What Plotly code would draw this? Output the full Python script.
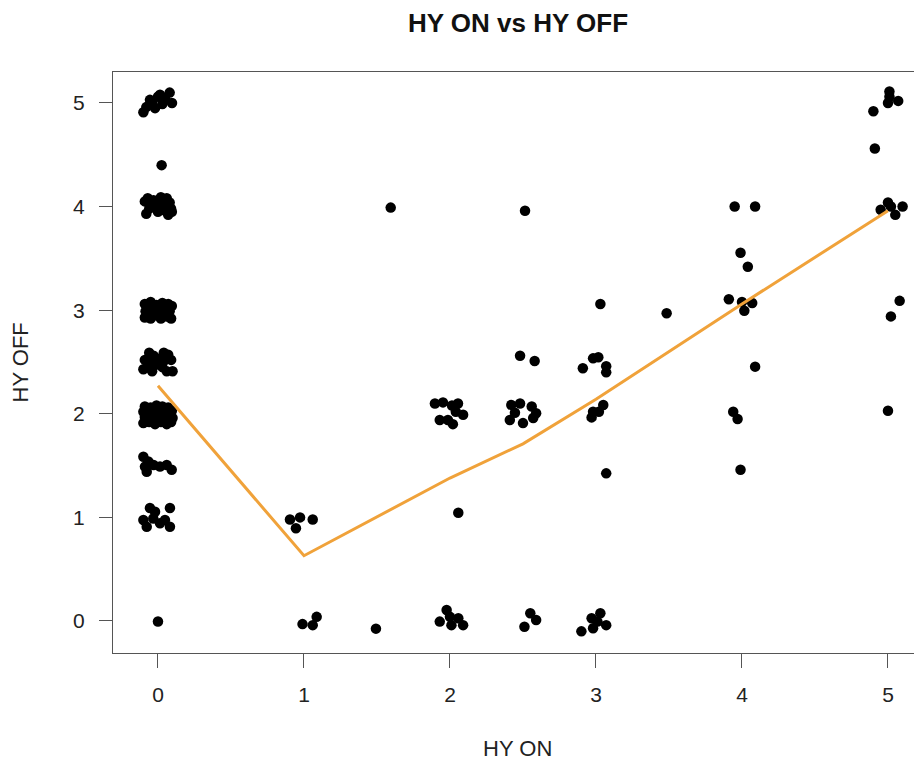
import plotly.graph_objects as go

# ---- data (jittered HY ON / HY OFF scores) ----
on_0 = [-0.10, -0.08, -0.055, -0.02, 0.0, 0.014, 0.05, 0.08, 0.096, -0.04, 0.03,
        0.025,
        -0.09, -0.06, -0.03, 0.0, 0.03, 0.06, 0.09, -0.08, -0.04, 0.02, 0.05, 0.08, -0.01, 0.07, -0.07, 0.04, 0.095,
        -0.09, -0.05, -0.01, 0.03, 0.07, 0.095, -0.085, -0.045, 0.0, 0.04, 0.08, -0.09, -0.05, -0.02, 0.02, 0.06, 0.09, -0.07, 0.05, -0.03, 0.065,
        -0.06, -0.03, 0.04, 0.07, -0.09, -0.05, 0.0, 0.04, 0.09, -0.10, -0.07, -0.02, 0.03, 0.06, 0.10, -0.04,
        -0.09, -0.05, -0.01, 0.03, 0.07, -0.10, -0.06, -0.02, 0.02, 0.06, 0.095, -0.09, -0.05, -0.01, 0.03, 0.07, 0.10,
        -0.10, -0.06, -0.02, 0.02, 0.06, 0.09, -0.08, 0.0, 0.05, -0.03, 0.08,
        -0.10, -0.066, -0.077, -0.03, 0.014, 0.094, 0.06, -0.089,
        -0.055, 0.082, -0.10, -0.032, -0.077, 0.014, 0.082, -0.02, 0.048,
        0.0]
off_0 = [4.91, 4.96, 5.03, 4.95, 5.06, 5.08, 5.04, 5.10, 5.00, 5.00, 4.99,
         4.40,
         4.05, 3.98, 4.06, 3.95, 4.03, 4.08, 3.98, 3.93, 4.01, 4.09, 3.96, 4.04, 4.00, 3.92, 4.08, 3.99, 3.95,
         3.06, 3.08, 3.05, 3.07, 3.06, 3.04, 2.99, 3.01, 2.98, 3.00, 2.99, 2.93, 2.92, 2.95, 2.92, 2.94, 2.92, 3.03, 3.03, 2.97, 2.97,
         2.59, 2.56, 2.59, 2.57, 2.52, 2.50, 2.53, 2.51, 2.52, 2.43, 2.45, 2.47, 2.45, 2.41, 2.41, 2.41,
         2.07, 2.06, 2.08, 2.07, 2.06, 2.02, 2.01, 2.03, 2.02, 2.01, 2.03, 1.97, 1.96, 1.98, 1.96, 1.97, 1.96,
         1.91, 1.92, 1.90, 1.92, 1.90, 1.92, 2.00, 1.94, 1.99, 2.05, 1.94,
         1.586, 1.54, 1.44, 1.505, 1.49, 1.46, 1.506, 1.49,
         1.09, 1.09, 0.975, 0.99, 0.91, 0.943, 0.91, 1.055, 0.975,
         -0.005]

on_1 = [0.904, 0.973, 0.945, 1.06, 0.99, 1.06, 1.087, 1.493, 1.594]
off_1 = [0.98, 1.00, 0.895, 0.98, -0.03, -0.04, 0.04, -0.074, 3.99]

on_2 = [1.897, 1.952, 2.014, 2.055, 2.09, 1.93, 1.986, 2.02, 2.04,
        2.057,
        1.93, 1.977, 2.01, 2.057, 2.09, 2.0]
off_2 = [2.10, 2.11, 2.08, 2.10, 1.99, 1.94, 1.94, 1.90, 2.02,
         1.045,
         -0.006, 0.106, -0.04, 0.026, -0.04, 0.04]

on_25 = [2.42, 2.48, 2.56, 2.59, 2.41, 2.50, 2.57, 2.445, 2.48, 2.58, 2.514, 2.51, 2.55, 2.59]
off_25 = [2.085, 2.10, 2.07, 2.005, 1.94, 1.91, 1.96, 2.01, 2.56, 2.51, 3.96, -0.055, 0.074, 0.01]

on_3 = [3.03, 2.98, 3.016, 2.91, 3.07, 3.07, 3.05, 2.98, 2.97, 3.02, 3.07,
        2.90, 2.97, 3.03, 3.07, 2.98, 3.01, 3.484]
off_3 = [3.06, 2.535, 2.545, 2.44, 2.46, 2.40, 2.085, 2.02, 1.965, 2.02, 1.425,
         -0.10, 0.026, 0.074, -0.04, -0.07, -0.006, 2.97]

on_4 = [3.95, 4.09, 3.99, 4.04, 3.91, 4.0, 4.07, 4.016, 4.09, 3.94, 3.97, 3.99]
off_4 = [4.0, 4.0, 3.555, 3.42, 3.105, 3.08, 3.07, 2.995, 2.455, 2.02, 1.95, 1.46]

on_5 = [5.01, 5.01, 5.0, 5.07, 4.90, 4.91, 5.0, 4.95, 5.05, 5.10, 5.02, 5.08, 5.02, 5.0]
off_5 = [5.11, 5.06, 5.0, 5.02, 4.92, 4.56, 4.04, 3.97, 3.92, 4.0, 4.0, 3.09, 2.94, 2.03]

trend_x = [0, 1, 2, 2.5, 3, 3.5, 4, 5]
trend_y = [2.27, 0.63, 1.38, 1.71, 2.14, 2.60, 3.06, 3.96]

x_ticks = [0, 1, 2, 3, 4, 5]
y_ticks = [0, 1, 2, 3, 4, 5]

# ---- figure ----
xs = on_0 + on_1 + on_2 + on_25 + on_3 + on_4 + on_5
ys = off_0 + off_1 + off_2 + off_25 + off_3 + off_4 + off_5

FONT = "Liberation Sans, Arial, Helvetica, sans-serif"

fig = go.Figure()
fig.add_trace(go.Scatter(
    x=xs, y=ys, mode="markers",
    marker=dict(color="black", size=10.5, line=dict(width=0)),
    hoverinfo="skip", showlegend=False,
))
fig.add_trace(go.Scatter(
    x=trend_x, y=trend_y, mode="lines",
    line=dict(color="#F0A23A", width=3),
    hoverinfo="skip", showlegend=False,
))

# page body adds an 8px offset, so the figure is 8px smaller in each direction
fig.update_layout(
    width=914, height=753,
    margin=dict(l=105, r=0, t=64, b=108),
    paper_bgcolor="white", plot_bgcolor="white",
    font=dict(family=FONT, size=21, color="#222222"),
    showlegend=False,
    xaxis=dict(
        range=[-0.308, 5.233], tickvals=x_ticks, ticktext=[str(v) for v in x_ticks],
        showgrid=False, zeroline=False, showline=True, mirror=True,
        linecolor="#555555", linewidth=1.2,
        ticks="outside", ticklen=14, tickwidth=1, tickcolor="#555555",
        tickfont=dict(size=21, family=FONT, color="#222222"),
        ticklabelstandoff=9,
    ),
    yaxis=dict(
        range=[-0.309, 5.299], tickvals=y_ticks, ticktext=[str(v) for v in y_ticks],
        showgrid=False, zeroline=False, showline=True, mirror=False,
        linecolor="#555555", linewidth=1.2,
        ticks="outside", ticklen=13, tickwidth=1, tickcolor="#555555",
        tickfont=dict(size=21, family=FONT, color="#222222"),
        ticklabelstandoff=10,
    ),
    annotations=[
        dict(text="<b>HY ON vs HY OFF</b>", xref="paper", yref="paper", x=0.5, y=1,
             xanchor="center", yanchor="middle", yshift=49, showarrow=False,
             font=dict(size=26, family=FONT, color="#111111")),
        dict(text="HY ON", xref="paper", yref="paper", x=0.5, y=0,
             xanchor="center", yanchor="middle", yshift=-95, showarrow=False,
             font=dict(size=22, family=FONT, color="#222222")),
        dict(text="HY OFF", xref="paper", yref="paper", x=0, y=0.5,
             xanchor="center", yanchor="middle", xshift=-93, textangle=-90, showarrow=False,
             font=dict(size=22, family=FONT, color="#222222")),
    ],
)

fig.write_html("out.html")
